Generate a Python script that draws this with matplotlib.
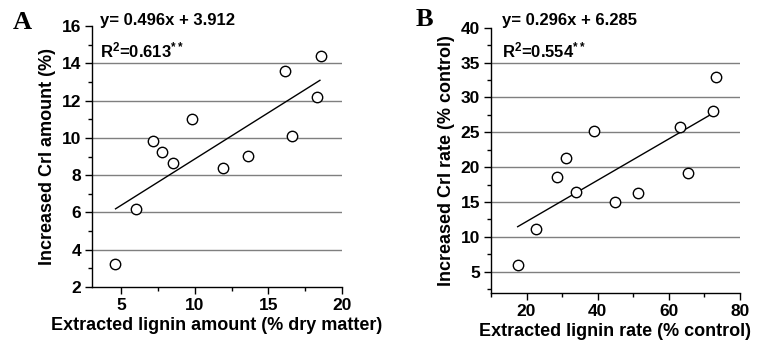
import matplotlib
matplotlib.use("Agg")
import matplotlib.pyplot as plt
from matplotlib.ticker import MultipleLocator
import numpy as np

plt.rcParams['font.family'] = ['Liberation Sans', 'DejaVu Sans']
plt.rcParams['font.weight'] = 'bold'
plt.rcParams['mathtext.fontset'] = 'custom'
plt.rcParams['mathtext.rm'] = 'Liberation Sans:bold'
plt.rcParams['mathtext.default'] = 'rm'

# panel A: lignin amount vs CrI amount
xa = [4.54, 5.98, 7.17, 7.78, 8.51, 9.83, 11.88, 13.62, 16.12, 16.63, 18.33, 18.56]
ya = [3.25, 6.21, 9.82, 9.23, 8.66, 11.0, 8.36, 9.04, 13.59, 10.09, 12.21, 14.39]
slope_a, icpt_a = 0.496, 3.912
fit_a = [4.6, 18.5]

# panel B: lignin rate vs CrI rate
xb = [17.5, 22.6, 28.5, 31.1, 33.8, 39.1, 44.75, 51.3, 63.2, 65.4, 72.5, 73.4]
yb = [5.95, 11.15, 18.64, 21.26, 16.40, 25.17, 15.01, 16.25, 25.79, 19.16, 28.08, 32.95]
slope_b, icpt_b = 0.296, 6.285
fit_b = [17.5, 72.5]

fig = plt.figure(figsize=(7.61, 3.46), dpi=100)
axA = fig.add_axes([0.1209, 0.1705, 0.3285, 0.7543])
axB = fig.add_axes([0.6452, 0.154, 0.327, 0.766])


def setup(ax, x, y, slope, icpt, fitx, xlim, ylim, xmaj, xmin, ymaj, ymin,
          xlabel, ylabel, eq, r2, txtx, eqy, r2y, letter, lx, ly):
    ax.set_xlim(*xlim)
    ax.set_ylim(*ylim)
    ax.xaxis.set_major_locator(MultipleLocator(xmaj))
    ax.xaxis.set_minor_locator(MultipleLocator(xmin))
    ax.yaxis.set_major_locator(MultipleLocator(ymaj))
    ax.yaxis.set_minor_locator(MultipleLocator(ymin))
    ax.spines['top'].set_visible(False)
    ax.spines['right'].set_visible(False)
    for s in ['left', 'bottom']:
        ax.spines[s].set_linewidth(1.0)
    ax.tick_params(which='major', direction='out', length=5, width=1, labelsize=12.5, pad=3)
    ax.tick_params(which='minor', direction='out', length=3, width=1)
    yt = [t for t in ax.get_yticks() if ylim[0] < t < ylim[1]]
    for t in yt:
        ax.axhline(t, color='#7f7f7f', lw=1.0, zorder=1)
    fx = np.array(fitx)
    ax.plot(fx, slope * fx + icpt, color='black', lw=1.0, zorder=2)
    ax.plot(x, y, 'o', ms=7.5, mfc='white', mec='black', mew=1.0, zorder=3, clip_on=False)
    ax.set_xlabel(xlabel, fontsize=13, fontweight='bold', labelpad=3)
    ax.set_ylabel(ylabel, fontsize=13, fontweight='bold', labelpad=4)
    ax.text(txtx, eqy, eq, fontsize=12, fontweight='bold', va='center', ha='left', clip_on=False)
    ax.text(txtx, r2y, r2, fontsize=12, fontweight='bold', va='center', ha='left', clip_on=False)
    ax.text(lx, ly, letter, transform=ax.transAxes, fontsize=19, fontweight='bold',
            family='Liberation Serif', va='center', ha='center')


setup(axA, xa, ya, slope_a, icpt_a, fit_a, (3, 20), (2, 16), 5, 2.5, 2, 1,
      'Extracted lignin amount (% dry matter)', 'Increased CrI amount (%)',
      'y= 0.496x + 3.912', r'R$^{2}$=0.613$^{**}$', 3.55, 16.3, 14.7, 'A', -0.28, 1.015)
setup(axB, xb, yb, slope_b, icpt_b, fit_b, (10, 80), (2, 40), 20, 10, 5, 2.5,
      'Extracted lignin rate (% control)', 'Increased CrI rate (% control)',
      'y= 0.296x + 6.285', r'R$^{2}$=0.554$^{**}$', 13.0, 41.1, 36.8, 'B', -0.269, 1.031)

fig.savefig('out.png', dpi=100)
